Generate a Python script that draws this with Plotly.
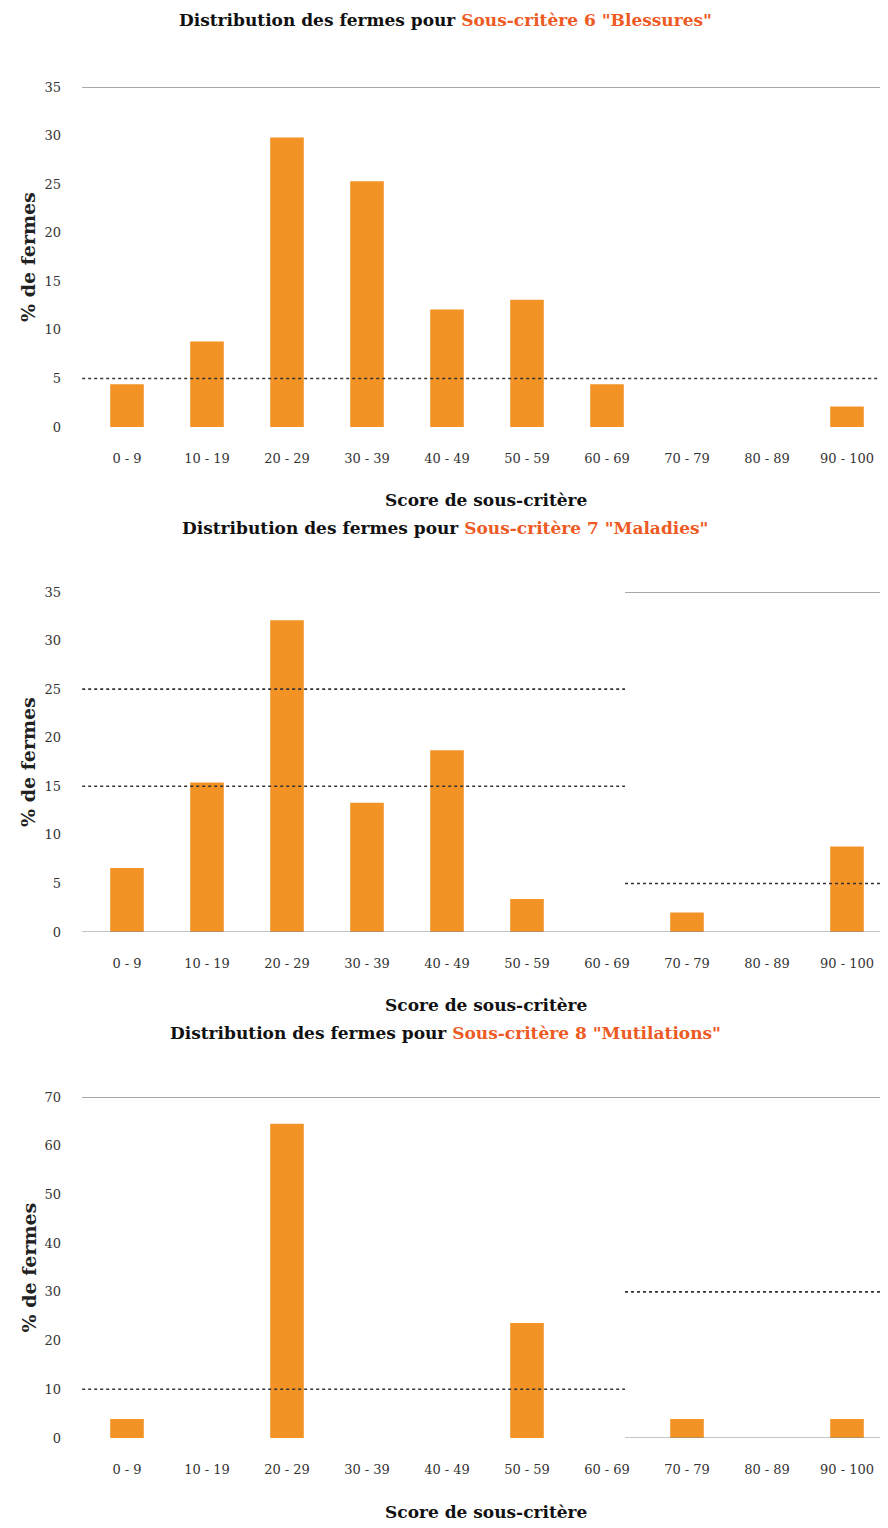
import plotly.graph_objects as go

categories = ["0 - 9", "10 - 19", "20 - 29", "30 - 39", "40 - 49",
              "50 - 59", "60 - 69", "70 - 79", "80 - 89", "90 - 100"]

blessures = [4.4, 8.8, 29.8, 25.3, 12.1, 13.1, 4.4, 0, 0, 2.1]
maladies = [6.6, 15.4, 32.1, 13.3, 18.7, 3.4, 0, 2.0, 0, 8.8]
mutilations = [3.9, 0, 64.5, 0, 0, 23.6, 0, 3.9, 0, 3.9]

titles = ['Sous-critère 6 "Blessures"', 'Sous-critère 7 "Maladies"', 'Sous-critère 8 "Mutilations"']
series = [blessures, maladies, mutilations]
y_max = [35, 35, 70]
y_step = [5, 5, 10]

# the page puts the figure 8px in from the top-left corner
OFF = 8
W, H = 888 - OFF, 1528 - OFF
FONT = "DejaVu Serif"
BAR = "#F39325"
ACCENT = "#EE5A24"


def px(x):
    return (x - OFF) / W


def py(y):
    return 1 - (y - OFF) / H


# screen-pixel layout of each panel: (plot top, plot bottom, title y, x-title y)
panels = [(87, 427, 20, 500), (592, 932, 528, 1005), (1097, 1438, 1033, 1512)]
x_left, x_right = 87, 887

fig = go.Figure()
shapes = []
annotations = []

for i, (vals, ttl, ymx, ystep, (top, bot, ty, xty)) in enumerate(zip(series, titles, y_max, y_step, panels)):
    n = "" if i == 0 else str(i + 1)
    fig.add_trace(go.Bar(x=categories, y=vals, marker_color=BAR, width=0.42,
                         xaxis="x" + n, yaxis="y" + n, showlegend=False))
    fig.layout["xaxis" + n] = dict(
        domain=[px(x_left), min(1, px(x_right))], anchor="y" + n, automargin=False,
        tickfont=dict(family=FONT, size=13, color="#333"),
        ticklabelstandoff=22, showline=False, showgrid=False, zeroline=False,
        categoryorder="array", categoryarray=categories)
    fig.layout["yaxis" + n] = dict(
        domain=[py(bot), py(top)], anchor="x" + n, automargin=False,
        range=[0, ymx], tick0=0, dtick=ystep,
        tickfont=dict(family=FONT, size=13, color="#333"),
        ticklabelstandoff=25, showgrid=False, zeroline=False, showline=False)
    annotations.append(dict(
        text="<b>Distribution des fermes pour </b><b><span style='color:%s'>%s</span></b>" % (ACCENT, ttl),
        x=px(445), y=py(ty), xref="paper", yref="paper", showarrow=False,
        xanchor="center", yanchor="middle", font=dict(family=FONT, size=17, color="#111")))
    annotations.append(dict(
        text="<b>Score de sous-critère</b>", x=px(486), y=py(xty),
        xref="paper", yref="paper", showarrow=False, xanchor="center", yanchor="middle",
        font=dict(family=FONT, size=17, color="#111")))
    annotations.append(dict(
        text="<b>% de fermes</b>", x=px(28), y=py((top + bot) / 2),
        xref="paper", yref="paper", showarrow=False, textangle=-90,
        xanchor="center", yanchor="middle", font=dict(family=FONT, size=19, color="#222")))

split = (625 - x_left) / (x_right - x_left)


def hline(n, yv, x0, x1, dash, color, width):
    shapes.append(dict(type="line", xref="x%s domain" % n, yref="y" + n,
                       x0=x0, x1=x1, y0=yv, y1=yv,
                       line=dict(color=color, width=width, dash=dash)))


# top reference lines
hline("", 35, -0.006, 1, "solid", "#8a8a8a", 1.5)
hline("2", 35, split, 1, "solid", "#8a8a8a", 1.5)
hline("3", 70, -0.006, 1, "solid", "#8a8a8a", 1.5)
# baselines
hline("2", 0, -0.006, 1, "solid", "#8a8a8a", 1.2)
hline("3", 0, split, 1, "solid", "#8a8a8a", 1.2)
# dotted lines
hline("", 5, -0.006, 1, "dot", "#333", 1.6)
hline("2", 25, -0.006, split, "dot", "#333", 1.6)
hline("2", 15, -0.006, split, "dot", "#333", 1.6)
hline("2", 5, split, 1, "dot", "#333", 1.6)
hline("3", 10, -0.006, split, "dot", "#333", 1.6)
hline("3", 30, split, 1, "dot", "#333", 1.6)

fig.update_layout(template="none", width=W, height=H,
                  margin=dict(l=0, r=0, t=0, b=0, autoexpand=False),
                  paper_bgcolor="white", plot_bgcolor="white",
                  shapes=shapes, annotations=annotations, bargap=0.58)

fig.write_html("out.html")
